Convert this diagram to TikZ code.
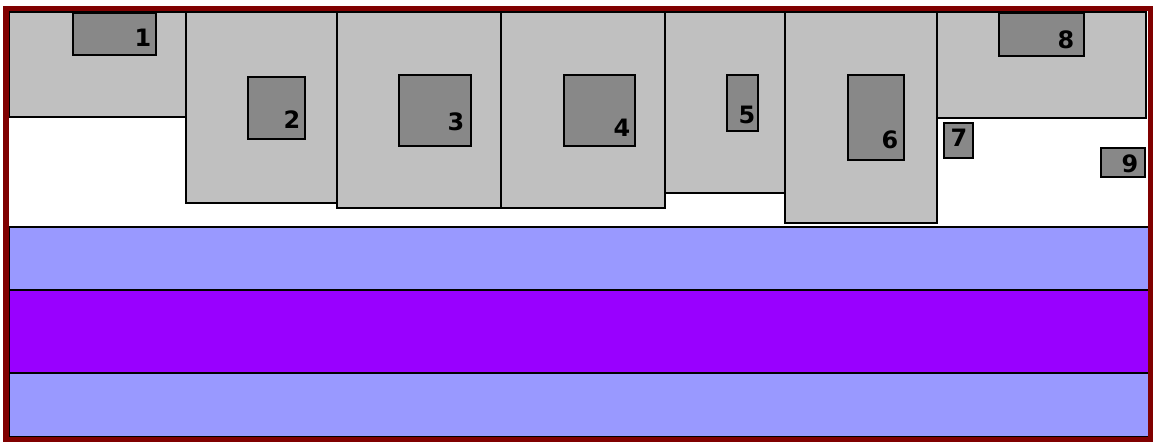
\documentclass[tikz,border=0pt]{standalone}
\usepackage{fontspec}
\setmainfont{DejaVu Sans}
\usetikzlibrary{positioning}
\definecolor{roomgray}{HTML}{C0C0C0}
\definecolor{unitgray}{HTML}{888888}
\definecolor{lanelight}{HTML}{9999FF}
\definecolor{lanedark}{HTML}{9900FF}
\definecolor{framered}{HTML}{800000}

\begin{document}
\begin{tikzpicture}[x=0.01cm, y=-0.01cm,
  room/.style={fill=roomgray, draw=black, line width=0.7pt},
  unit/.style={fill=unitgray, draw=black, line width=0.7pt},
  lane/.style={draw=black, line width=0.7pt},
  num/.style={font=\bfseries\fontsize{6.8}{7}\selectfont, inner sep=0pt}]
  \useasboundingbox (0,0) rectangle (1153,442);
  \fill[white] (0,0) rectangle (1153,442);

  % lanes
  \draw[lane, fill=lanelight] (9,227) rectangle (1149,290);
  \draw[lane, fill=lanedark] (9,290) rectangle (1149,373);
  \draw[lane, fill=lanelight] (9,373) rectangle (1149,437);

  % rooms
  \foreach \xa/\ya/\xb/\yb in {9/12/186/117, 186/12/337/203, 337/12/501/208,
      501/12/665/208, 665/12/785/193, 785/12/937/223, 937/12/1146/118}
    \draw[room] (\xa,\ya) rectangle (\xb,\yb);

  % units with numbers
  \foreach \xa/\ya/\xb/\yb/\lx/\ly/\n in {73/13/156/55/143/38/1,
      248/77/305/139/292/120/2, 399/75/471/146/456/122/3,
      564/75/635/146/622/128/4, 727/75/758/131/747/115/5,
      848/75/904/160/890/140/6, 944/123/973/158/959/138/7,
      999/13/1084/56/1066/40/8, 1101/148/1145/177/1130/164/9} {
    \draw[unit] (\xa,\ya) rectangle (\xb,\yb);
    \node[num] (u\n) at (\lx,\ly) {\n};
  }

  \draw[framered, line width=1.7pt] (6,8.5) rectangle (1150.5,439.5);
\end{tikzpicture}
\end{document}
